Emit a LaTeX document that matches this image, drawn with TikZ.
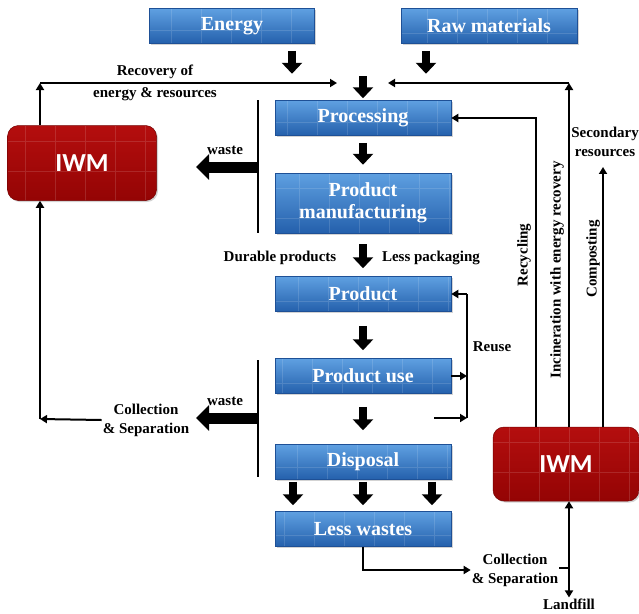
\documentclass[tikz,border=0pt]{standalone}
\usepackage{fontspec}
\setmainfont{Liberation Serif}
\newfontfamily\iwmfont{Carlito}
\usetikzlibrary{arrows.meta,shadows,calc,positioning}

\definecolor{stagetop}{RGB}{95,160,225}
\definecolor{stagebot}{RGB}{36,96,172}
\definecolor{stageline}{RGB}{30,80,150}
\definecolor{iwmtop}{RGB}{180,14,14}
\definecolor{iwmbot}{RGB}{148,4,4}

\tikzset{
  tiles/.style={path picture={\draw[white, opacity=0.13, line width=0.5pt, step=30pt]
    (path picture bounding box.south west) grid (path picture bounding box.north east);}},
  stage/.style={rectangle, top color=stagetop, bottom color=stagebot, draw=stageline, line width=0.5pt,
    text=white, font=\bfseries\fontsize{20}{22}\selectfont, align=center,
    minimum width=176pt, minimum height=35pt, inner sep=2pt, tiles,
    drop shadow={shadow xshift=1.5pt, shadow yshift=-1.5pt, opacity=0.35}},
  iwm/.style={rectangle, rounded corners=11pt, top color=iwmtop, bottom color=iwmbot, draw=iwmbot!80!black,
    line width=0.5pt, text=white, font=\iwmfont\bfseries\fontsize{26}{28}\selectfont,
    minimum width=149pt, minimum height=75pt, tiles,
    drop shadow={shadow xshift=1.5pt, shadow yshift=-1.5pt, opacity=0.35}},
  lbl/.style={font=\bfseries\fontsize{15}{19}\selectfont, align=center, inner sep=1pt},
  flow/.style={line width=2pt, -{Triangle[length=7pt,width=8pt]}},
  plain/.style={line width=2pt},
  fat/.style={line width=8pt, -{Triangle[length=11pt,width=20pt]}},
  fatwaste/.style={line width=11pt, -{Triangle[length=13pt,width=25pt]}}
}

\begin{document}
\begin{tikzpicture}[x=1pt, y=-1pt]
    \useasboundingbox (0,0) rectangle (639,613);

    % Inputs
    \node[stage, minimum width=165pt] (energy) at (232,26) {Energy};
    \node[stage] (raw) at (489,26) {Raw materials};

    % Life cycle
    \node[stage] (proc) at (363,118) {Processing};
    \node[stage, minimum height=60pt] (manu) at (363,203) {Product\\manufacturing};
    \node[stage] (prod) at (363,294) {Product};
    \node[stage] (use) at (363,376) {Product use};
    \node[stage] (disp) at (363,462) {Disposal};
    \node[stage] (less) at (363,529) {Less wastes};

    % Waste management
    \node[iwm] (iwmL) at (82,163) {IWM};
    \node[iwm, minimum width=146pt, minimum height=74pt] (iwmR) at (566,464) {IWM};

    % Labels
    \node[lbl, font=\bfseries\fontsize{15}{22}\selectfont] (recov) at (155,83) {Recovery of\\energy \& resources};
    \node[lbl] (waste1) at (225,150) {waste};
    \node[lbl] (waste2) at (225,401) {waste};
    \node[lbl] (colL) at (146,420) {Collection\\\& Separation};
    \node[lbl] (durable) at (280,258) {Durable products};
    \node[lbl] (lesspack) at (431,258) {Less packaging};
    \node[lbl] (reuse) at (492,347) {Reuse};
    \node[lbl] (secres) at (605,142) {Secondary\\resources};
    \node[lbl, rotate=90] (recyc) at (524,255) {Recycling};
    \node[lbl, rotate=90] (incin) at (557,270) {Incineration with energy recovery};
    \node[lbl, rotate=90] (compost) at (593,259) {Composting};
    \node[lbl] (colR) at (515,570) {Collection\\\& Separation};
    \node[lbl] (landfill) at (569,604) {Landfill};

    % Helper points
    \coordinate (feed) at (363,76);
    \coordinate (cL) at (40,83);
    \coordinate (feedL) at (337,83);
    \coordinate (cR) at (569,83);
    \coordinate (feedR) at (388,83);
    \coordinate (xrec) at (536,0);
    \coordinate (xcomp) at (603,0);
    \coordinate (cL2) at (40,419);
    \coordinate (sep1) at (258,167);
    \coordinate (sep2) at (258,418);
    \coordinate (rtop) at (467,294);
    \coordinate (rbot) at (467,418);
    \coordinate (rin) at (434,418);
    \coordinate (lf) at (569,568);

    % Main flow
    \draw[fat] ($(energy.south)+(60,7)$) -- ++(0,23);
    \draw[fat] ($(raw.south)+(-63,7)$) -- ++(0,23);
    \draw[fat, shorten >=2pt] (feed) -- (proc);
    \draw[fat, shorten <=7pt, shorten >=8pt] (proc) -- (manu);
    \draw[fat, shorten <=11pt, shorten >=8pt] (manu) -- (prod);
    \draw[fat, shorten <=14pt, shorten >=8pt] (prod) -- (use);
    \draw[fat, shorten <=13pt, shorten >=14pt] (use) -- (disp);
    \draw[fat] ($(disp.south)+(-70,2)$) -- ($(less.north)+(-70,-6)$);
    \draw[fat] ($(disp.south)+(0,2)$) -- ($(less.north)+(0,-6)$);
    \draw[fat] ($(disp.south)+(69,2)$) -- ($(less.north)+(69,-6)$);

    % Waste streams
    \draw[plain] (258,100) -- (258,233);
    \draw[plain] (258,360) -- (258,477);
    \draw[fatwaste] (sep1) -- ++(-62,0);
    \draw[fatwaste] (sep2) -- ++(-62,0);

    % Recovery of energy and resources
    \draw[flow] (iwmL.north -| cL) -- (cL);
    \draw[flow] (cL) -- (feedL);
    \draw[flow] (colL.west) -- (cL2);
    \draw[flow] (cL2) -- (iwmL.south -| cL2);
    \draw[flow] (iwmR.north -| cR) -- (cR);
    \draw[flow] (cR) -- (feedR);
    \draw[flow] (iwmR.north -| xrec) |- (proc.east);
    \draw[flow, shorten >=9pt] (iwmR.north -| xcomp) -- (secres.south -| xcomp);

    % Reuse loop
    \draw[plain] (rtop) -- (rbot);
    \draw[flow] (rtop) -- (prod.east);
    \draw[flow] (use.east) -- (use.east -| rtop);
    \draw[flow] (rin) -- (rbot);

    % Final disposal
    \draw[flow] (less.south) |- (colR.west);
    \draw[plain] (colR.east |- lf) -- (lf);
    \draw[flow] (lf) -- (iwmR.south -| lf);
    \draw[flow] (lf) -- (landfill.north);
\end{tikzpicture}
\end{document}
